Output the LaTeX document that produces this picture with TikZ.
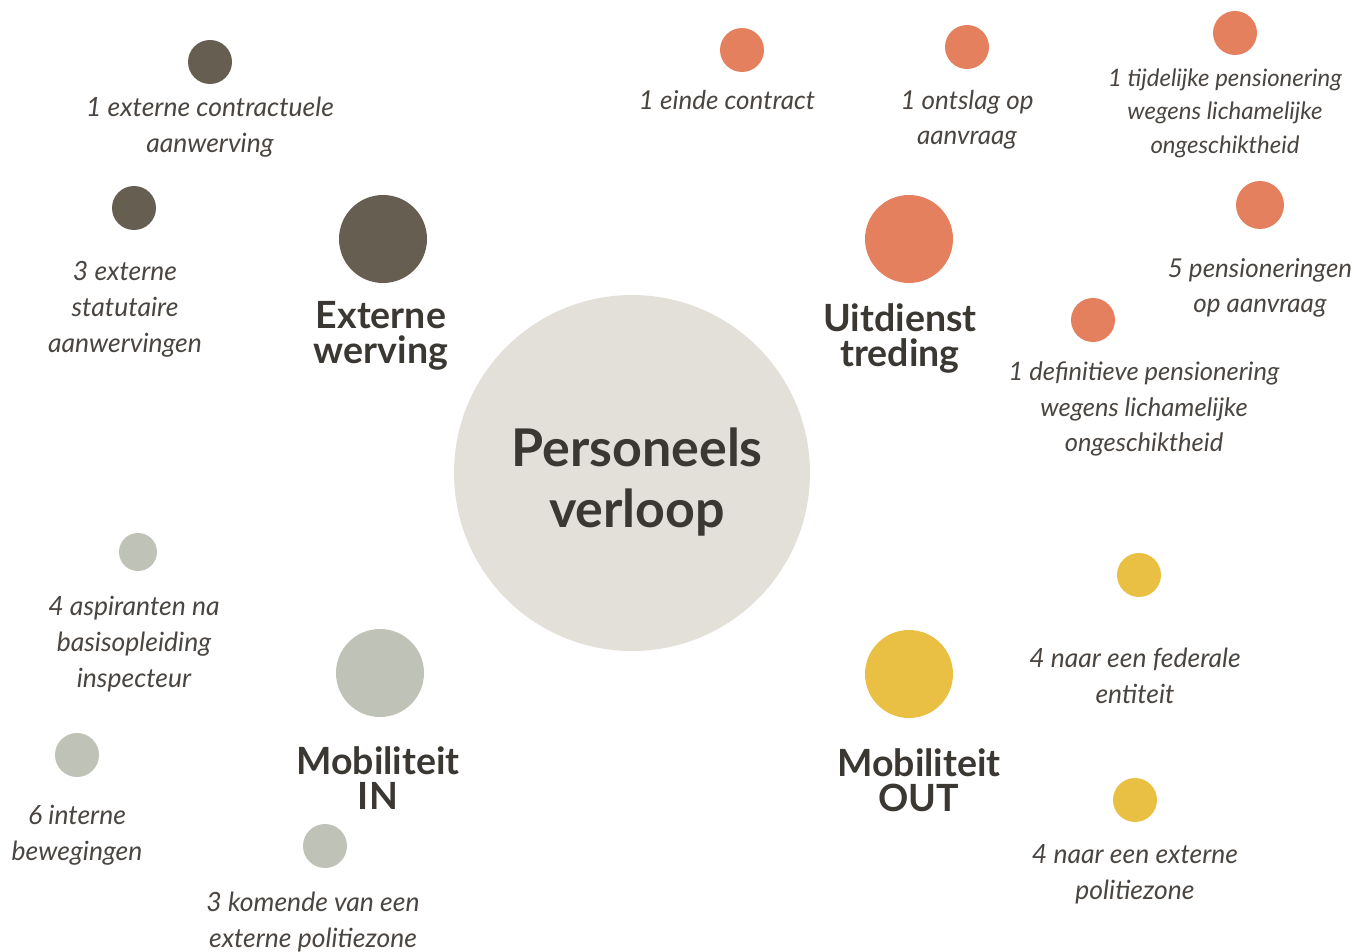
\documentclass[tikz,border=0pt]{standalone}
\usepackage{fontspec}
\setmainfont{Lato}
\definecolor{bigc}{HTML}{E3E0D9}
\definecolor{darkc}{HTML}{675E52}
\definecolor{orc}{HTML}{E5805F}
\definecolor{grc}{HTML}{BFC2B6}
\definecolor{yec}{HTML}{EAC044}
\definecolor{txt}{HTML}{4A4540}
\definecolor{head}{HTML}{3B3833}
\tikzset{
  dot/.style={circle, fill=#1, draw=none, inner sep=0pt},
  lab/.style={align=center, text=txt, inner sep=0pt, font=\fontsize{26.5}{36}\selectfont\itshape},
  labn/.style={align=center, text=txt, inner sep=0pt, font=\fontsize{26}{35}\selectfont\itshape},
  hd/.style={align=center, text=head, inner sep=0pt, font=\fontsize{37.5}{35}\selectfont\bfseries},
}
\begin{document}
\begin{tikzpicture}[x=1pt,y=-1pt]
\useasboundingbox (0,0) rectangle (1362,952);
% centre
\node[dot=bigc, minimum size=356pt] (center) at (632,473) {};
\node[align=center, text=head, inner sep=0pt, font=\fontsize{52}{61}\selectfont\bfseries] (centerlab) at (637,482) {Personeels\\verloop};
% Externe werving
\node[dot=darkc, minimum size=88pt] (ew) at (383,239) {};
\node[hd] (ewlab) at (381,336) {Externe\\werving};
\node[dot=darkc, minimum size=44pt] (ew1) at (210,62) {};
\node[lab] (ew1lab) at (210,127) {1 externe contractuele\\aanwerving};
\node[dot=darkc, minimum size=44pt] (ew2) at (134,208) {};
\node[lab] (ew2lab) at (125,309) {3 externe\\statutaire\\aanwervingen};
% Uitdienst treding
\node[dot=orc, minimum size=88pt] (ut) at (909,239) {};
\node[hd] (utlab) at (900,338) {Uitdienst\\treding};
\node[dot=orc, minimum size=44pt] (ut1) at (742,50) {};
\node[labn] (ut1lab) at (727,100) {1 einde contract};
\node[dot=orc, minimum size=44pt] (ut2) at (967,47) {};
\node[labn] (ut2lab) at (967,120) {1 ontslag op\\aanvraag};
\node[dot=orc, minimum size=44pt] (ut3) at (1235,33) {};
\node[labn, font=\fontsize{24}{33.5}\selectfont\itshape] (ut3lab) at (1225,113) {1 tijdelijke pensionering\\wegens lichamelijke\\ongeschiktheid};
\node[dot=orc, minimum size=48pt] (ut4) at (1260,205) {};
\node[labn] (ut4lab) at (1260,288) {5 pensioneringen\\op aanvraag};
\node[dot=orc, minimum size=44pt] (ut5) at (1093,320) {};
\node[labn, font=\fontsize{25.5}{35.5}\selectfont\itshape] (ut5lab) at (1144,409) {1 definitieve pensionering\\wegens lichamelijke\\ongeschiktheid};
% Mobiliteit IN
\node[dot=grc, minimum size=88pt] (mi) at (380,673) {};
\node[hd] (milab) at (378,778) {Mobiliteit\\IN};
\node[dot=grc, minimum size=38pt] (mi1) at (138,552) {};
\node[lab] (mi1lab) at (134,644) {4 aspiranten na\\basisopleiding\\inspecteur};
\node[dot=grc, minimum size=44pt] (mi2) at (77,755) {};
\node[lab] (mi2lab) at (77,835) {6 interne\\bewegingen};
\node[dot=grc, minimum size=44pt] (mi3) at (325,846) {};
\node[lab] (mi3lab) at (313,922) {3 komende van een\\externe politiezone};
% Mobiliteit OUT
\node[dot=yec, minimum size=88pt] (mo) at (909,674) {};
\node[hd] (molab) at (919,780) {Mobiliteit\\OUT};
\node[dot=yec, minimum size=44pt] (mo1) at (1139,575) {};
\node[lab] (mo1lab) at (1135,676) {4 naar een federale\\entiteit};
\node[dot=yec, minimum size=44pt] (mo2) at (1135,800) {};
\node[lab] (mo2lab) at (1135,874) {4 naar een externe\\politiezone};
\end{tikzpicture}
\end{document}
